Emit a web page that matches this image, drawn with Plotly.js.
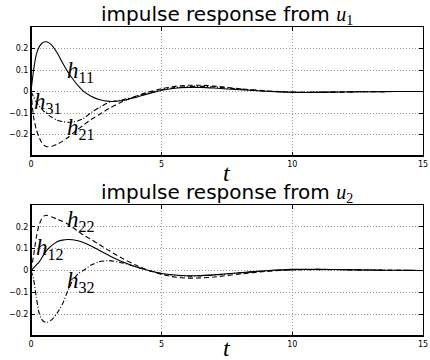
<!DOCTYPE html>
<html>
<head>
<meta charset="utf-8">
<script src="https://cdn.plot.ly/plotly-3.0.1.min.js"></script>
<style>html,body{margin:0;padding:0;background:#fff;}#chart{width:430px;height:360px;}</style>
</head>
<body>
<div id="chart"></div>
<script>
// time samples
const t = [0,0.1,0.2,0.3,0.4,0.5,0.6,0.8,1.0,1.2,1.4,1.6,1.8,2.0,2.3,2.6,3.0,3.5,4,4.5,5,5.5,6,6.5,7,8,9,10,11,12,13,14,15];

// impulse response from u1
const h11 = [0,0.1,0.17,0.205,0.222,0.23,0.231,0.215,0.18,0.135,0.093,0.058,0.027,0.002,-0.022,-0.037,-0.046,-0.042,-0.028,-0.01,0.006,0.015,0.019,0.019,0.016,0.008,0.001,-0.004,-0.004,-0.002,-0.001,0,0];
const h21 = [0,-0.12,-0.175,-0.21,-0.236,-0.25,-0.257,-0.255,-0.245,-0.232,-0.215,-0.195,-0.175,-0.157,-0.13,-0.108,-0.078,-0.047,-0.022,-0.002,0.013,0.024,0.029,0.029,0.025,0.013,0.003,-0.003,-0.004,-0.002,-0.001,0,0];
const h31 = [0,-0.025,-0.048,-0.065,-0.08,-0.093,-0.103,-0.12,-0.133,-0.14,-0.143,-0.142,-0.136,-0.126,-0.098,-0.075,-0.05,-0.038,-0.024,-0.006,0.008,0.018,0.023,0.024,0.021,0.011,0.002,-0.003,-0.003,-0.002,-0.001,0,0];

// impulse response from u2
const h12 = [0,0.012,0.025,0.037,0.055,0.075,0.092,0.115,0.132,0.139,0.142,0.141,0.136,0.128,0.112,0.093,0.068,0.04,0.017,0,-0.014,-0.021,-0.024,-0.023,-0.02,-0.01,-0.001,0.005,0.005,0.004,0.002,0.001,0];
const h22 = [0,0.07,0.15,0.205,0.235,0.25,0.253,0.245,0.235,0.225,0.213,0.197,0.18,0.163,0.142,0.12,0.09,0.055,0.025,0,-0.018,-0.03,-0.035,-0.034,-0.03,-0.016,-0.004,0.003,0.005,0.004,0.002,0.001,0];
const h32 = [0,-0.04,-0.12,-0.19,-0.222,-0.235,-0.238,-0.225,-0.195,-0.155,-0.095,-0.045,-0.015,0,0.025,0.04,0.045,0.035,0.018,0,-0.014,-0.022,-0.026,-0.025,-0.021,-0.011,-0.002,0.003,0.004,0.003,0.002,0.001,0];

const yTicks = [-0.2,-0.1,0,0.1,0.2];
const yTickText = ['\u22120.2','\u22120.1','0','0.1','0.2'];
const xTicks = [0,5,10,15];
const xTickText = ['0','5','10','15'];

const DASH = '5px,3px';
const DASHDOT = '5px,2px,1px,2px';

function tr(y, dash, xa, ya) {
  return {x: t, y: y, type: 'scatter', mode: 'lines', xaxis: xa, yaxis: ya,
    line: {color: '#000', width: 1.1, dash: dash, shape: 'spline', smoothing: 0.6},
    hoverinfo: 'skip', showlegend: false};
}

const data = [
  tr(h11, 'solid', 'x', 'y'),
  tr(h21, DASH, 'x', 'y'),
  tr(h31, DASHDOT, 'x', 'y'),
  tr(h12, 'solid', 'x2', 'y2'),
  tr(h22, DASH, 'x2', 'y2'),
  tr(h32, DASHDOT, 'x2', 'y2')
];

const tickFont = {family: 'DejaVu Sans', size: 8, color: '#000'};
const GRID = {showgrid: true, gridcolor: '#9a9a9a', griddash: '1px,2px', gridwidth: 1};
function xax(anchor) {
  return Object.assign({anchor: anchor, range: [0, 15], tickvals: xTicks, ticktext: xTickText,
    ticks: 'inside', ticklen: 4, tickwidth: 1, tickcolor: '#000',
    showline: true, linecolor: '#000', linewidth: 1, mirror: 'ticks',
    zeroline: false, tickfont: tickFont, fixedrange: true}, GRID);
}
function yax(anchor, domain) {
  return Object.assign({anchor: anchor, domain: domain, range: [-0.3, 0.3], tickvals: yTicks, ticktext: yTickText,
    ticks: 'inside', ticklen: 4, tickwidth: 1, tickcolor: '#000',
    showline: true, linecolor: '#000', linewidth: 1, mirror: 'ticks',
    zeroline: false, tickfont: tickFont, fixedrange: true}, GRID);
}

const serif = 'Liberation Serif';
function hlab(sub) {
  return '<i>h</i><sub>' + sub + '</sub>';
}
// curve label placements (data coords of each panel)
const labels = [
  {txt: hlab('11'), x: 1.3, y: 0.092, xr: 'x', yr: 'y'},
  {txt: hlab('31'), x: 0.03, y: -0.055, xr: 'x', yr: 'y'},
  {txt: hlab('21'), x: 1.3, y: -0.173, xr: 'x', yr: 'y'},
  {txt: hlab('22'), x: 1.3, y: 0.227, xr: 'x2', yr: 'y2'},
  {txt: hlab('12'), x: 0.1, y: 0.099, xr: 'x2', yr: 'y2'},
  {txt: hlab('32'), x: 1.3, y: -0.052, xr: 'x2', yr: 'y2'}
];

const annotations = labels.map(l => ({
  text: l.txt, x: l.x, y: l.y, xref: l.xr, yref: l.yr, xanchor: 'left', yanchor: 'middle',
  showarrow: false, font: {family: serif, size: 23, color: '#000'}
}));

function title(sub, xr, yr) {
  return {text: 'impulse response from <span style="font-family:\'Liberation Serif\'"><i>u</i><sub>' + sub + '</sub></span>',
    xref: xr + ' domain', yref: yr + ' domain', x: 0.5, y: 1, xanchor: 'center', yanchor: 'bottom',
    yshift: -3, showarrow: false, font: {family: 'DejaVu Sans', size: 20, color: '#000'}};
}
annotations.push(title('1', 'x', 'y'));
annotations.push(title('2', 'x2', 'y2'));

function tlabel(xr, yr, shift) {
  return {text: '<i>t</i>', xref: xr + ' domain', yref: yr + ' domain', x: 0.5, y: 0,
    xanchor: 'center', yanchor: 'middle', yshift: shift, showarrow: false,
    font: {family: serif, size: 24, color: '#000'}};
}
annotations.push(tlabel('x', 'y', -17));
annotations.push(tlabel('x2', 'y2', -12));

function thick(xr, yr) {
  return [
    {type: 'line', xref: xr + ' domain', yref: yr + ' domain', x0: 0, x1: 0, y0: 0, y1: 1, line: {color: '#000', width: 2}, layer: 'above'},
    {type: 'line', xref: xr + ' domain', yref: yr + ' domain', x0: 0, x1: 1, y0: 0, y1: 0, line: {color: '#000', width: 2}, layer: 'above'}
  ];
}

const layout = {
  width: 430, height: 360,
  margin: {l: 31, r: 7, t: 27, b: 24, pad: 0},
  paper_bgcolor: '#fff', plot_bgcolor: '#fff',
  showlegend: false,
  xaxis: xax('y'),
  yaxis: yax('x', [0.5825, 1]),
  xaxis2: xax('y2'),
  yaxis2: yax('x2', [0, 0.424]),
  annotations: annotations,
  shapes: thick('x', 'y').concat(thick('x2', 'y2'))
};

Plotly.newPlot('chart', data, layout, {displayModeBar: false, staticPlot: true});
</script>
</body>
</html>
